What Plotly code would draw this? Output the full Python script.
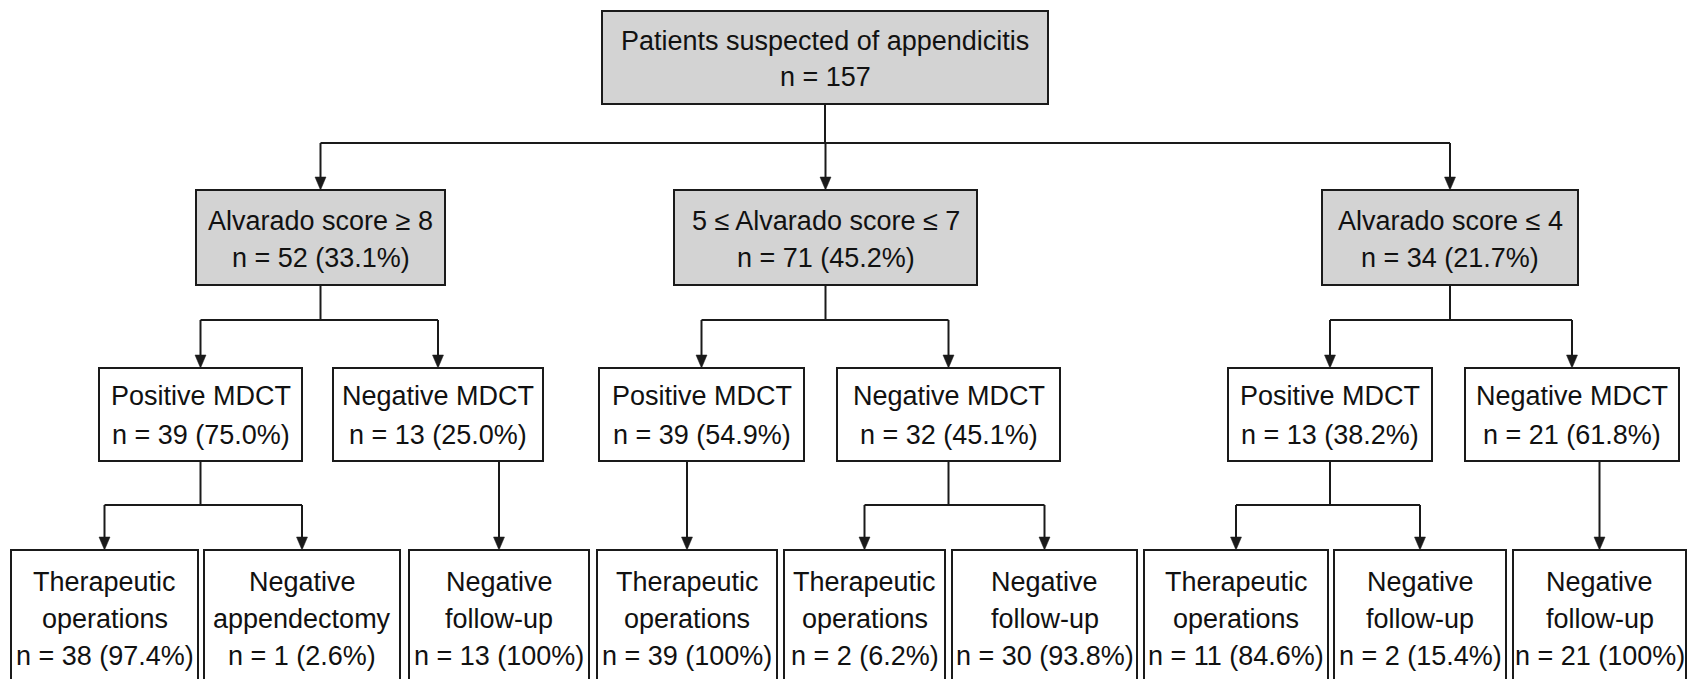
import plotly.graph_objects as go

# ---------------- data ----------------
root_label = "Patients suspected of appendicitis"
root_n = 157

score_labels = ["Alvarado score \u2265 8", "5 \u2264 Alvarado score \u2264 7", "Alvarado score \u2264 4"]
score_n = [52, 71, 34]
score_pct = ["33.1%", "45.2%", "21.7%"]

mdct_labels = ["Positive MDCT", "Negative MDCT", "Positive MDCT", "Negative MDCT",
               "Positive MDCT", "Negative MDCT"]
mdct_n = [39, 13, 39, 32, 13, 21]
mdct_pct = ["75.0%", "25.0%", "54.9%", "45.1%", "38.2%", "61.8%"]

outcome_line1 = ["Therapeutic", "Negative", "Negative", "Therapeutic", "Therapeutic",
                 "Negative", "Therapeutic", "Negative", "Negative"]
outcome_line2 = ["operations", "appendectomy", "follow-up", "operations", "operations",
                 "follow-up", "operations", "follow-up", "follow-up"]
outcome_n = [38, 1, 13, 39, 2, 30, 11, 2, 21]
outcome_pct = ["97.4%", "2.6%", "100%", "100%", "6.2%", "93.8%", "84.6%", "15.4%", "100%"]

# tree structure (which child nodes belong to which parent)
score_children = [[0, 1], [2, 3], [4, 5]]
mdct_children = [[0, 1], [2], [3], [4, 5], [6, 7], [8]]

# ---------------- layout geometry (pixels) ----------------
W, H = 1687, 679
ROOT_X = (602, 1048); ROOT_Y = (11, 104); ROOT_LINES = [41, 77]
L2_X = [(196, 445), (674, 977), (1322, 1578)]; L2_Y = (190, 285); L2_LINES = [221, 258]
L3_X = [(99, 302), (333, 543), (599, 804), (837, 1060), (1228, 1432), (1465, 1679)]
L3_Y = (368, 461); L3_LINES = [396, 435]
L4_X = [(11, 198), (204, 400), (409, 589), (597, 777), (784, 945), (952, 1137),
        (1144, 1328), (1334, 1506), (1513, 1686)]
L4_Y = (550, 700); L4_LINES = [582, 619, 656]
BUS_Y = [143, 320, 505]

INK = "#1a1a1a"
GRAY = "#d3d3d3"
FONT = dict(family="Liberation Sans, Arial, sans-serif", size=27, color="#111111")
LW = 2
AH, AW = 13, 5.5

shapes = []
annotations = []


def box(x, y, fill):
    shapes.append(dict(type="rect", xref="x", yref="y", x0=x[0], x1=x[1], y0=y[0], y1=y[1],
                       line=dict(color=INK, width=LW), fillcolor=fill, layer="above"))


def text(xc, yc, s):
    annotations.append(dict(x=xc, y=yc, xref="x", yref="y", text=s, showarrow=False,
                            xanchor="center", yanchor="middle", font=FONT))


def line(x0, y0, x1, y1):
    shapes.append(dict(type="line", xref="x", yref="y", x0=x0, y0=y0, x1=x1, y1=y1,
                       line=dict(color=INK, width=LW), layer="above"))


def arrow(x, y_from, y_to):
    line(x, y_from, x, y_to - AH + 1)
    shapes.append(dict(type="path", xref="x", yref="y",
                       path=f"M {x-AW},{y_to-AH} L {x+AW},{y_to-AH} L {x},{y_to} Z",
                       fillcolor=INK, line=dict(color=INK, width=0.5), layer="above"))


def cx(r):
    return (r[0] + r[1]) / 2


def connect(parent_x, parent_bottom, child_xs, child_top, bus_y):
    centers = [cx(c) for c in child_xs]
    if len(centers) == 1:
        arrow(centers[0], parent_bottom, child_top)
        return
    line(cx(parent_x), parent_bottom, cx(parent_x), bus_y)
    line(min(centers), bus_y, max(centers), bus_y)
    for c in centers:
        arrow(c, bus_y, child_top)


# root
box(ROOT_X, ROOT_Y, GRAY)
text(cx(ROOT_X), ROOT_LINES[0], root_label)
text(cx(ROOT_X), ROOT_LINES[1], f"n = {root_n}")
connect(ROOT_X, ROOT_Y[1], L2_X, L2_Y[0], BUS_Y[0])

# Alvarado score level
for i, lab in enumerate(score_labels):
    box(L2_X[i], L2_Y, GRAY)
    text(cx(L2_X[i]), L2_LINES[0], lab)
    text(cx(L2_X[i]), L2_LINES[1], f"n = {score_n[i]} ({score_pct[i]})")
    connect(L2_X[i], L2_Y[1], [L3_X[j] for j in score_children[i]], L3_Y[0], BUS_Y[1])

# MDCT level
for i, lab in enumerate(mdct_labels):
    box(L3_X[i], L3_Y, "white")
    text(cx(L3_X[i]), L3_LINES[0], lab)
    text(cx(L3_X[i]), L3_LINES[1], f"n = {mdct_n[i]} ({mdct_pct[i]})")
    connect(L3_X[i], L3_Y[1], [L4_X[j] for j in mdct_children[i]], L4_Y[0], BUS_Y[2])

# outcome level
for i in range(len(outcome_n)):
    box(L4_X[i], L4_Y, "white")
    text(cx(L4_X[i]), L4_LINES[0], outcome_line1[i])
    text(cx(L4_X[i]), L4_LINES[1], outcome_line2[i])
    text(cx(L4_X[i]), L4_LINES[2], f"n = {outcome_n[i]} ({outcome_pct[i]})")

fig = go.Figure()
fig.add_trace(go.Scatter(x=[0, W], y=[0, H], mode="markers", marker=dict(opacity=0),
                         hoverinfo="skip", showlegend=False))
fig.update_layout(
    width=W, height=H, margin=dict(l=0, r=0, t=0, b=0),
    paper_bgcolor="white", plot_bgcolor="white",
    xaxis=dict(range=[0, W], visible=False, fixedrange=True),
    yaxis=dict(range=[H, 0], visible=False, fixedrange=True),
    shapes=shapes, annotations=annotations, showlegend=False,
)
fig.write_html("out.html", config={"displayModeBar": False},
               post_script="document.body.style.margin='0';document.body.style.overflow='hidden';")
